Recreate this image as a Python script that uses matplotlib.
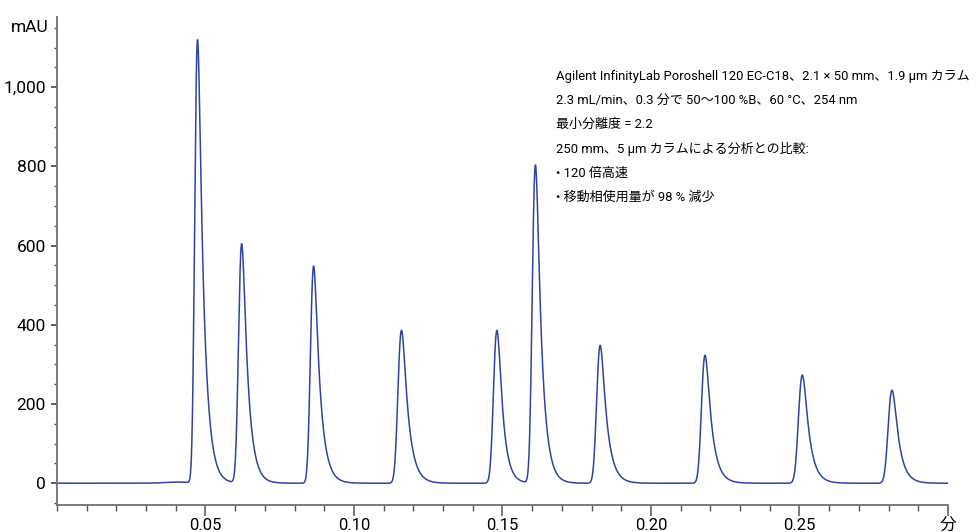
import numpy as np
import matplotlib
matplotlib.use("Agg")
import matplotlib.pyplot as plt
import matplotlib.ticker as ticker
from math import erfc

plt.rcParams['font.family'] = ['Roboto', 'Noto Sans CJK JP', 'DejaVu Sans']

# peak table (min, mAU)
peak_times = [0.0473, 0.0621, 0.0863, 0.1158, 0.1480, 0.1610, 0.1827, 0.2180, 0.2507, 0.2809]
peak_heights = [1119, 604, 548, 386, 386, 803, 348, 323, 273, 235]
peak_sigma = [0.0007, 0.0008, 0.0008, 0.0009, 0.0009, 0.0008, 0.0009, 0.0009, 0.0010, 0.0010]
peak_tau = [0.0019, 0.0019, 0.0020, 0.0021, 0.0018, 0.0019, 0.0021, 0.0021, 0.0021, 0.0021]

# small baseline drift before the first peak
bump_time = 0.040
bump_height = 3
bump_width = 0.004

x_ticks = [0.05, 0.10, 0.15, 0.20, 0.25, 0.30]
x_labels = ["0.05", "0.10", "0.15", "0.20", "0.25", "分"]
y_ticks = [0, 200, 400, 600, 800, 1000]
y_labels = ["0", "200", "400", "600", "800", "1,000"]

notes = [
    "Agilent InfinityLab Poroshell 120 EC-C18、2.1 × 50 mm、1.9 µm カラム",
    "2.3 mL/min、0.3 分で 50～100 %B、60 °C、254 nm",
    "最小分離度 = 2.2",
    "250 mm、5 µm カラムによる分析との比較:",
    "• 120 倍高速",
    "• 移動相使用量が 98 % 減少",
]


def emg(t, mu, sigma, tau):
    # exponentially modified gaussian (tailing peak)
    z = (t - mu) / sigma
    arg = (sigma / tau - z) / np.sqrt(2)
    ef = np.array([erfc(a) for a in arg])
    return np.exp(0.5 * (sigma / tau) ** 2 - (t - mu) / tau) * ef


t = np.linspace(0, 0.30, 6000)
signal = bump_height * np.exp(-0.5 * ((t - bump_time) / bump_width) ** 2)
for mu, h, s, ta in zip(peak_times, peak_heights, peak_sigma, peak_tau):
    shape = emg(t, mu - 0.0008, s, ta)
    signal += h * shape / shape.max()

W, H = 978, 532
fig = plt.figure(figsize=(W / 100, H / 100), dpi=100)
ax = fig.add_axes([57 / W, 1 - 505 / H, (948 - 57) / W, (505 - 17) / H])

ax.plot(t, signal, color="#2d45a0", lw=1.1)

ax.set_xlim(0, 0.30)
ax.set_ylim(-55, 1177)

for s in ("top", "right"):
    ax.spines[s].set_visible(False)
for s in ("left", "bottom"):
    ax.spines[s].set_color("#707070")
    ax.spines[s].set_linewidth(1.3)

ax.set_xticks(x_ticks)
ax.set_xticklabels(x_labels)
ax.set_yticks(y_ticks)
ax.set_yticklabels(y_labels)
ax.xaxis.set_minor_locator(ticker.MultipleLocator(0.01))
ax.yaxis.set_minor_locator(ticker.MultipleLocator(50))

ax.tick_params(axis="x", which="major", length=8, width=1.1, color="#555555", labelsize=12, pad=1)
ax.tick_params(axis="x", which="minor", length=4, width=1.0, color="#555555")
ax.tick_params(axis="y", which="major", length=4, width=1.1, color="#333333", labelsize=12.5, pad=4)
ax.tick_params(axis="y", which="minor", length=2, width=1.0, color="#555555")

fig.text(49 / W, 1 - 27 / H, "mAU", ha="right", va="center", fontsize=12.5)

y0 = 76
for i, line in enumerate(notes):
    fig.text(556 / W, 1 - (y0 + i * 24.3) / H, line, ha="left", va="center", fontsize=9.4)

fig.savefig("out.png", dpi=100)
